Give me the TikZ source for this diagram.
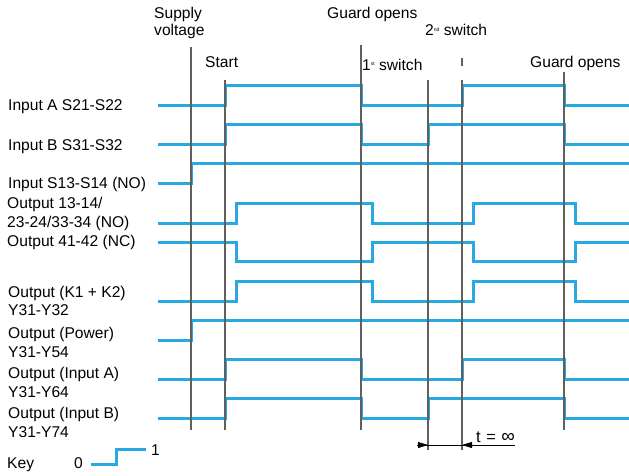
\documentclass[tikz,border=0pt]{standalone}
\usepackage{fontspec}
\setmainfont{Liberation Sans}
\usetikzlibrary{arrows.meta}
\definecolor{sig}{HTML}{29A9E1}
\definecolor{guidegray}{HTML}{5F5F5F}
\newcommand{\ordsup}[1]{\raisebox{4.5pt}{\fontsize{5}{5}\selectfont #1}}
\begin{document}
\begin{tikzpicture}[x=1pt,y=-1pt,
  signal/.style={draw=sig,line width=3pt,line join=miter},
  guide/.style={draw=guidegray,line width=1.1pt},
  lbl/.style={anchor=base west,inner sep=0pt,font=\fontsize{15.6}{18}\selectfont},
  dimtip/.style={-{Triangle[length=10pt,width=6pt]},draw=black,line width=0.8pt}
]
\path[use as bounding box] (0,0) rectangle (629,475);

% ---- signal traces ----
% Input A S21-S22
\draw[signal] (158,105) -- (225,105) -- (225,85) -- (361,85) -- (361,105)
  -- (462,105) -- (462,85) -- (564,85) -- (564,105) -- (629,105);
% Input B S31-S32
\draw[signal] (158,144) -- (225,144) -- (225,124) -- (361,124) -- (361,144)
  -- (428,144) -- (428,124) -- (564,124) -- (564,144) -- (629,144);
% Input S13-S14
\draw[signal] (158,183) -- (191,183) -- (191,163) -- (629,163);
% Output 13-14 / 23-24 / 33-34
\draw[signal] (158,223) -- (236,223) -- (236,203) -- (372,203) -- (372,223)
  -- (473,223) -- (473,203) -- (575,203) -- (575,223) -- (629,223);
% Output 41-42
\draw[signal] (158,242) -- (236,242) -- (236,261) -- (372,261) -- (372,242)
  -- (473,242) -- (473,261) -- (575,261) -- (575,242) -- (629,242);
% Output K1 + K2
\draw[signal] (158,301) -- (236,301) -- (236,281) -- (372,281) -- (372,301)
  -- (473,301) -- (473,281) -- (575,281) -- (575,301) -- (629,301);
% Output Power
\draw[signal] (158,340) -- (191,340) -- (191,320) -- (629,320);
% Output Input A
\draw[signal] (158,379) -- (225,379) -- (225,359) -- (361,359) -- (361,379)
  -- (462,379) -- (462,359) -- (564,359) -- (564,379) -- (629,379);
% Output Input B
\draw[signal] (158,418) -- (225,418) -- (225,398) -- (361,398) -- (361,418)
  -- (428,418) -- (428,398) -- (564,398) -- (564,418) -- (629,418);

% ---- event guide lines ----
\draw[guide] (191,47) -- (191,430);
\draw[guide] (225,80) -- (225,430);
\draw[guide] (361,45) -- (361,430);
\draw[guide] (428,80) -- (428,450);
\draw[guide] (462,58) -- (462,66);
\draw[guide] (462,80) -- (462,450);
\draw[guide] (564,72) -- (564,430);

% ---- event labels ----
\node[lbl] (supply) at (154,18.5) {Supply};
\node[lbl] (voltage) at (154,35.5) {voltage};
\node[lbl] (guard1) at (327,18.5) {Guard opens};
\node[lbl] (second) at (425,35.5) {2\ordsup{nd} switch};
\node[lbl] (start) at (205,67.5) {Start};
\node[lbl] (first) at (362,70) {1\ordsup{st} switch};
\node[lbl] (guard2) at (530,67.5) {Guard opens};

% ---- signal labels ----
\node[lbl] (inA) at (8,110.5) {Input A S21-S22};
\node[lbl] (inB) at (8,150.5) {Input B S31-S32};
\node[lbl] (inS) at (8,188.5) {Input S13-S14 (NO)};
\node[lbl] (outNOa) at (7,208.5) {Output 13-14/};
\node[lbl] (outNOb) at (7,227) {23-24/33-34 (NO)};
\node[lbl] (outNC) at (7,246) {Output 41-42 (NC)};
\node[lbl] (outKa) at (8,297) {Output (K1 + K2)};
\node[lbl] (outKb) at (8,315) {Y31-Y32};
\node[lbl] (outPa) at (8,338.5) {Output (Power)};
\node[lbl] (outPb) at (8,357) {Y31-Y54};
\node[lbl] (outAa) at (8,378.5) {Output (Input A)};
\node[lbl] (outAb) at (8,397) {Y31-Y64};
\node[lbl] (outBa) at (8,418.5) {Output (Input B)};
\node[lbl] (outBb) at (8,437) {Y31-Y74};

% ---- time dimension ----
\coordinate (dimL) at (417,445);
\coordinate (dimR) at (515,445);
\coordinate (tA) at (428,445);
\coordinate (tB) at (462,445);
\coordinate (tBtail) at (474,445);
\draw[black,line width=0.7pt] (dimL) -- (dimR);
\draw[dimtip] (dimL) -- (tA);
\draw[dimtip] (tBtail) -- (tB);
\node[lbl,font=\fontsize{16.5}{18}\selectfont] (tinf) at (476,442) {t\,\,=\,\,{\fontsize{19}{19}\selectfont ∞}};

% ---- key ----
\node[lbl] (key) at (7,468) {Key};
\node[lbl] (zero) at (74,468.5) {0};
\node[lbl] (one) at (151,455.5) {1};
\draw[signal] (91,464) -- (116,464) -- (116,449) -- (146,449);
\end{tikzpicture}
\end{document}
